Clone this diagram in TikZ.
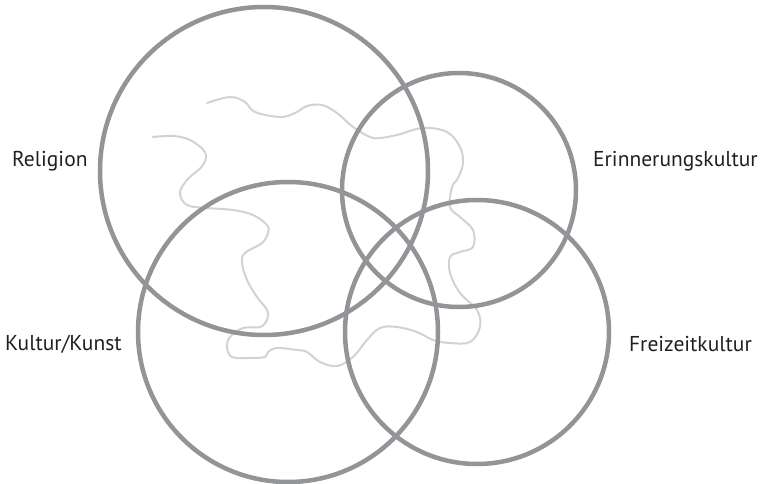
\documentclass[tikz,border=0pt]{standalone}
\usepackage{fontspec}
\setmainfont{PT Sans}
\usetikzlibrary{positioning}
\definecolor{ringgray}{RGB}{147,148,152}
\definecolor{wavegray}{RGB}{210,210,210}
\definecolor{labelink}{RGB}{35,31,32}

\begin{document}
\begin{tikzpicture}[x=1pt, y=-1pt,
    ring/.style={draw=ringgray, line width=4.5pt, circle, inner sep=0pt},
    lbl/.style={font=\fontsize{21.5}{24}\selectfont, text=labelink, inner sep=0pt}]
  \useasboundingbox (0,0) rectangle (764,484);

  \draw[wavegray, line width=2pt, line cap=round]
    plot[smooth, tension=0.6] coordinates {
      (207,103) (230,97) (245,102) (255,112) (280,117) (295,113) (307,106)
      (322,105) (337,113) (353,127) (370,137) (380,138) (397,135) (423,128)
      (447,132) (460,147) (463,163) (458,178) (452,187) (450,207) (460,217)
      (473,230) (473,247) (460,252) (450,257) (450,273) (460,293) (477,310)
      (480,327) (470,342) (450,343) (433,340) (417,332) (397,327) (380,328)
      (367,340) (353,357) (337,366) (320,362) (307,352) (297,350) (277,348)
      (268,352) (265,357) (250,358) (232,357) (227,347) (230,337) (243,328)
      (260,327) (267,320) (267,310) (257,297) (247,280) (242,263) (245,253)
      (262,243) (268,233) (267,225) (253,215) (233,210) (207,208) (187,205)
      (180,193) (187,180) (203,165) (205,152) (190,140) (173,136) (153,137)};

  \node[ring, minimum size=328pt] (religion) at (264,171) {};
  \node[ring, minimum size=234pt] (erinnerung) at (459,190) {};
  \node[ring, minimum size=300pt] (kunst) at (288,332) {};
  \node[ring, minimum size=264pt] (freizeit) at (477,332) {};

  \node[lbl, anchor=west] (religionlbl) at (12,161) {Religion};
  \node[lbl, anchor=east] (erinnerunglbl) at (758,161) {Erinnerungskultur};
  \node[lbl, anchor=west] (kunstlbl) at (5,344) {Kultur/Kunst};
  \node[lbl, anchor=east] (freizeitlbl) at (752,344) {Freizeitkultur};
\end{tikzpicture}
\end{document}
